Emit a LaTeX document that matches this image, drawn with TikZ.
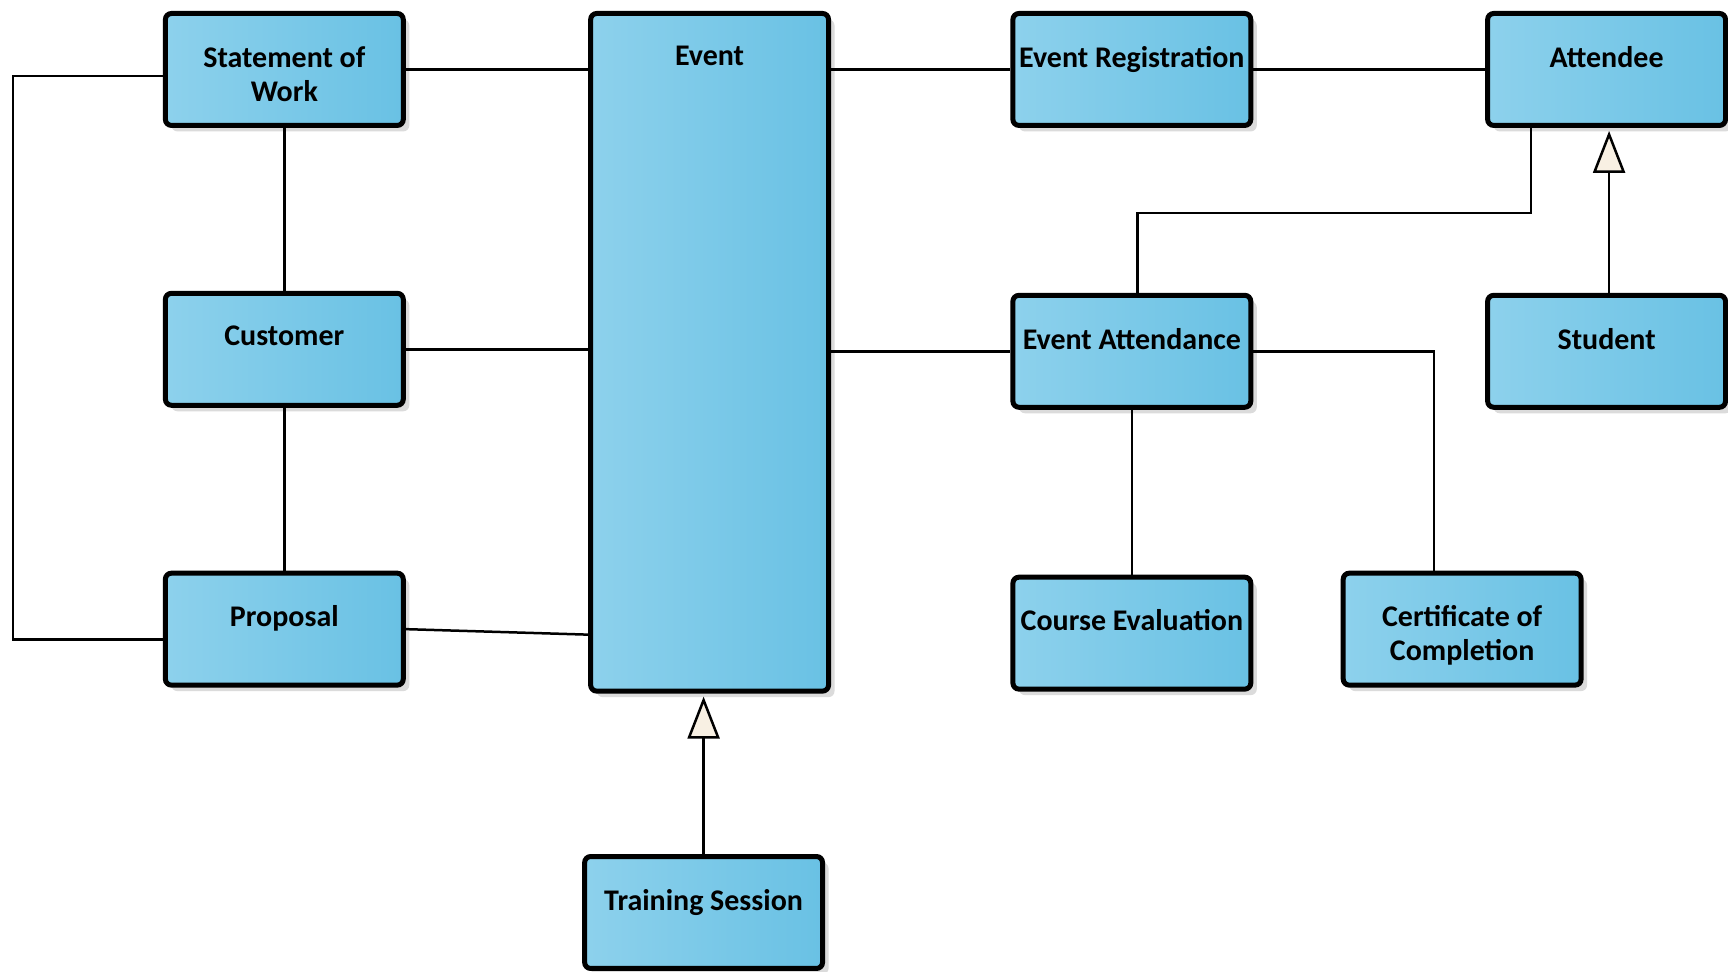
\documentclass[tikz,border=0pt]{standalone}
\usepackage{fontspec}
\setmainfont{Carlito}
\usetikzlibrary{shapes,arrows.meta,positioning,shadows}

\definecolor{boxleft}{HTML}{8DD1EC}
\definecolor{boxright}{HTML}{69C1E4}
\definecolor{cream}{HTML}{F8F0E3}

\begin{document}
\begin{tikzpicture}[x=1pt, y=-1pt, line width=2.5pt,
entity/.style={rectangle, draw, line width=5pt, rounded corners=6pt,
  left color=boxleft, right color=boxright,
  minimum width=238pt, minimum height=112pt, inner sep=0pt,
  drop shadow={shadow xshift=6pt, shadow yshift=-6pt, fill=black!14, opacity=1}},
title/.style={anchor=north, yshift=-34pt, inner sep=0pt, align=center,
  font=\fontsize{30}{34}\selectfont\bfseries},
isa/.style={-{Triangle[width=32pt, length=42pt, fill=cream]}, shorten >=3pt}]

\path[fill=white] (0,0) rectangle (1728,972);

% left column
\node [entity, label={[title]north:Statement of\\Work}] (sow) at (284.5,69.5) {};
\node [entity, label={[title]north:Customer}] (cust) at (284.5,349.5) {};
\node [entity, label={[title]north:Proposal}] (prop) at (284.5,629.5) {};

% event and its subtype
\node [entity, minimum height=678pt, label={[title]north:Event}] (event) at (710,352.5) {};
\node [entity, label={[title]north:Training Session}] (ts) at (704,913) {};

% right part
\node [entity, label={[title]north:Event Registration}] (evreg) at (1132.5,69.5) {};
\node [entity, label={[title]north:Event Attendance}] (evatt) at (1132.5,351.5) {};
\node [entity, label={[title]north:Course Evaluation}] (course) at (1132.5,633.5) {};
\node [entity, label={[title]north:Attendee}] (attendee) at (1607.5,69.5) {};
\node [entity, label={[title]north:Student}] (student) at (1607.5,351.5) {};
\node [entity, label={[title]north:Certificate of\\Completion}] (cert) at (1463,629.5) {};

% associations
\path (sow.east) edge (sow.east -| event.west);
\path (cust.east) edge (cust.east -| event.west);
\path (prop.east) edge ([yshift=59pt]event.south west);
\path (sow) edge (cust);
\path (cust) edge (prop);
\draw ([yshift=-6.5pt]sow.west) -- ++(-150,0) |- ([yshift=-10.5pt]prop.west);

\path (evreg.west -| event.east) edge (evreg.west);
\path (evreg) edge (attendee);
\path (evatt.west -| event.east) edge (evatt.west);
\path (evatt) edge (course);
\draw (evatt.east) -| ([xshift=-28pt]cert.north);
\draw ([xshift=5.5pt]evatt.north) -- ++(0,-80) -| ([xshift=-75.5pt]attendee.south);

% generalisations
\draw [isa] ([xshift=2.5pt]student.north) -- ([xshift=2.5pt]attendee.south);
\draw [isa] (ts.north) -- (ts.north |- event.south);

\end{tikzpicture}
\end{document}
